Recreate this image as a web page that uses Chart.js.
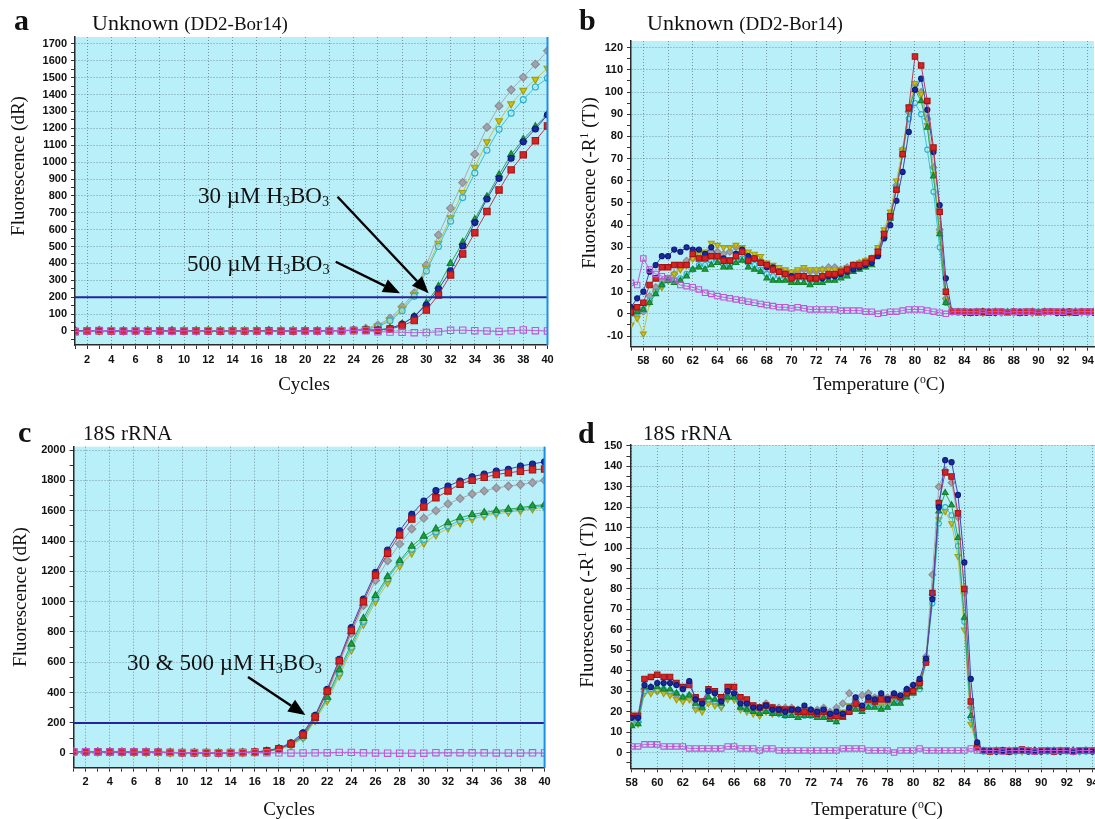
<!DOCTYPE html>
<html>
<head>
<meta charset="utf-8">
<title>Amplification and melt curves</title>
<script src="https://cdn.jsdelivr.net/npm/chart.js@4.4.1/dist/chart.umd.min.js"></script>
<style>
  html, body { margin: 0; padding: 0; background: #fff; }
  body { position: relative; width: 1095px; height: 819px; overflow: hidden; }
  canvas { position: absolute; }
  .tx { position: absolute; font-family: "Liberation Serif", "Times New Roman", serif; color: #111; line-height: 1; white-space: nowrap; }
  .letter { font-weight: bold; font-size: 30px; }
  .head { font-size: 22px; }
  .head small { font-size: 19px; }
  .ttl { font-size: 21px; }
  .ax { font-size: 19px; transform: translate(-50%, -50%); }
  .ax.v { transform: translate(-50%, -50%) rotate(-90deg); }
  .note { font-size: 23px; }
  sub { font-size: 0.62em; vertical-align: -0.2em; line-height: 0; }
  sup { font-size: 0.62em; vertical-align: 0.55em; line-height: 0; }
</style>
</head>
<body>
<canvas id="chartA" width="560" height="400" style="left:0;top:0"></canvas>
<canvas id="chartB" width="540" height="400" style="left:560px;top:0"></canvas>
<canvas id="chartC" width="560" height="419" style="left:0;top:400px"></canvas>
<canvas id="chartD" width="540" height="419" style="left:560px;top:400px"></canvas>

<div class="tx letter" style="left:14px;top:5px">a</div>
<div class="tx letter" style="left:579px;top:5px">b</div>
<div class="tx letter" style="left:18px;top:417px">c</div>
<div class="tx letter" style="left:578px;top:418px">d</div>

<div class="tx head" style="left:92px;top:11.6px">Unknown <small>(DD2-Bor14)</small></div>
<div class="tx head" style="left:647px;top:11.6px">Unknown <small>(DD2-Bor14)</small></div>
<div class="tx ttl" style="left:83px;top:423.4px">18S rRNA</div>
<div class="tx ttl" style="left:643px;top:423.4px">18S rRNA</div>

<div class="tx ax v" style="left:17px;top:166px">Fluorescence (dR)</div>
<div class="tx ax" style="left:304px;top:383px">Cycles</div>
<div class="tx ax v" style="left:588px;top:183px">Fluorescence (-R<sup>1</sup> (T))</div>
<div class="tx ax" style="left:879px;top:383px">Temperature (<sup>o</sup>C)</div>
<div class="tx ax v" style="left:19px;top:597px">Fluorescence (dR)</div>
<div class="tx ax" style="left:289px;top:808px">Cycles</div>
<div class="tx ax v" style="left:586px;top:602px">Fluorescence (-R<sup>1</sup> (T))</div>
<div class="tx ax" style="left:877px;top:808px">Temperature (<sup>o</sup>C)</div>

<div class="tx note" style="left:198px;top:183.7px">30 µM H<sub>3</sub>BO<sub>3</sub></div>
<div class="tx note" style="left:187px;top:252.4px">500 µM H<sub>3</sub>BO<sub>3</sub></div>
<div class="tx note" style="left:127px;top:650.7px">30 &amp; 500 µM H<sub>3</sub>BO<sub>3</sub></div>

<script>
// ---------- amplification plots (a: unknown, c: 18S) ----------
const cycles = [1,2,3,4,5,6,7,8,9,10,11,12,13,14,15,16,17,18,19,20,21,22,23,24,25,26,27,28,29,30,31,32,33,34,35,36,37,38,39,40];
const cycleLabels = [2,4,6,8,10,12,14,16,18,20,22,24,26,28,30,32,34,36,38,40];
const yLabelsA = [0,100,200,300,400,500,600,700,800,900,1000,1100,1200,1300,1400,1500,1600,1700];
const yLabelsC = [0,200,400,600,800,1000,1200,1400,1600,1800,2000];
const thresholdA = 200;
const thresholdC = 200;

// 30 uM boric acid: gray, yellow, cyan; 500 uM: green, blue, red; no-template: magenta
const grayA    = [0,2,3,1,0,2,1,0,1,2,0,1,2,1,0,1,2,0,1,2,1,3,2,5,16,36,75,144,225,391,569,727,879,1047,1207,1333,1428,1503,1580,1659];
const yellowA  = [1,0,2,1,0,1,2,1,0,1,1,2,0,1,2,1,0,1,1,2,1,2,3,4,12,30,65,130,215,370,520,670,820,970,1120,1245,1345,1425,1490,1556];
const cyanA    = [0,1,1,2,0,1,1,0,2,1,0,1,1,0,2,1,1,0,1,1,2,1,2,4,10,25,60,120,205,355,500,650,790,935,1070,1195,1290,1370,1445,1497];
const greenA   = [2,1,3,2,1,2,3,1,2,1,2,3,1,2,1,2,3,1,2,2,1,2,3,4,5,7,15,40,85,165,265,400,525,660,795,925,1045,1135,1210,1285];
const blueA    = [0,1,2,1,0,1,2,1,0,1,2,1,0,1,1,2,1,0,1,2,1,2,2,3,4,6,14,41,85,154,248,357,503,642,782,904,1023,1121,1196,1280];
const redA     = [-3,0,1,0,-1,1,0,1,-1,0,1,0,-1,1,0,0,1,-1,0,1,0,1,2,3,4,5,12,30,62,124,213,332,456,582,707,835,954,1043,1127,1214];
const magentaA = [-4,0,3,2,0,1,2,0,-1,1,0,2,1,0,1,0,-1,0,1,0,0,1,2,3,2,-4,-6,-8,-10,-9,-5,4,5,2,0,-3,1,6,2,0];

const grayC    = [12,12,10,10,9,8,9,8,6,5,5,5,4,5,6,8,14,32,62,130,245,395,590,790,975,1140,1270,1380,1480,1550,1600,1645,1680,1710,1730,1750,1762,1772,1785,1800];
const yellowC  = [8,8,8,7,7,6,6,6,5,4,4,4,3,4,5,6,12,25,50,100,215,345,510,680,850,1000,1125,1235,1320,1385,1440,1485,1520,1545,1565,1578,1590,1600,1612,1620];
const cyanC    = [9,9,8,8,7,7,7,6,5,4,4,4,3,4,5,7,13,28,55,105,225,360,530,700,870,1020,1150,1260,1345,1410,1460,1500,1535,1560,1575,1590,1600,1612,1625,1630];
const greenC   = [10,10,9,9,8,7,8,7,5,5,4,4,3,4,5,7,14,30,60,112,230,370,550,720,890,1040,1165,1270,1365,1432,1480,1520,1553,1575,1588,1600,1610,1620,1632,1640];
const blueC    = [12,11,10,9,8,8,7,7,5,3,3,3,2,4,5,8,18,33,70,135,250,422,620,829,1018,1193,1341,1468,1576,1664,1732,1763,1796,1824,1842,1862,1873,1895,1908,1923];
const redC     = [11,10,10,9,8,8,8,7,5,4,3,3,2,3,5,8,15,30,62,122,240,410,610,810,1000,1175,1320,1440,1545,1625,1685,1730,1775,1800,1820,1838,1850,1860,1870,1875];
const magentaC = [10,10,9,9,8,8,8,7,6,5,5,5,4,5,5,5,4,3,2,2,3,4,6,6,3,2,1,1,1,1,4,4,4,3,3,2,2,2,3,2];

// ---------- melt curves (b: unknown, d: 18S) ----------
const tempsB = [57,57.5,58,58.5,59,59.5,60,60.5,61,61.5,62,62.5,63,63.5,64,64.5,65,65.5,66,66.5,67,67.5,68,68.5,69,69.5,70,70.5,71,71.5,72,72.5,73,73.5,74,74.5,75,75.5,76,76.5,77,77.5,78,78.5,79,79.5,80,80.5,81,81.5,82,82.5,83,83.5,84,84.5,85,85.5,86,86.5,87,87.5,88,88.5,89,89.5,90,90.5,91,91.5,92,92.5,93,93.5,94,94.5];
const tempsD = [58,58.5,59,59.5,60,60.5,61,61.5,62,62.5,63,63.5,64,64.5,65,65.5,66,66.5,67,67.5,68,68.5,69,69.5,70,70.5,71,71.5,72,72.5,73,73.5,74,74.5,75,75.5,76,76.5,77,77.5,78,78.5,79,79.5,80,80.5,81,81.5,82,82.5,83,83.5,84,84.5,85,85.5,86,86.5,87,87.5,88,88.5,89,89.5,90,90.5,91,91.5,92,92.5,93,93.5,94];
const tempLabels = [58,60,62,64,66,68,70,72,74,76,78,80,82,84,86,88,90,92,94];
const yLabelsB = [-10,0,10,20,30,40,50,60,70,80,90,100,110,120];
const yLabelsD = [0,10,20,30,40,50,60,70,80,90,100,110,120,130,140,150];

const grayB    = [0,0,1,8,12,15,16,18,21,24,25,26,26,28,28,27,28,30,28,26,25,24,22,20,19,19,18,19,20,19,19,20,21,21,20,21,22,23,24,25,29,37,45,58,74,91,103,100,88,66,38,7,1,
                  1,1,0.5,1,0.5,1,1,0.5,1,1,0.5,1,0.5,1,1,1,0.5,1,0.5,1,1,0.5,1];
const yellowB  = [-5,-2,-9,5,10,12,15,18,20,22,25,27,28,32,31,30,30,31,30,28,27,26,23,22,21,20,19,20,21,20,20,20,20,20,20,21,22,23,24,25,30,38,46,60,74,93,104,99,85,63,36,6,1,
                  1,0.5,1,1,0.5,1,0.5,1,1,0.5,1,1,0.5,1,0.5,1,1,0.5,1,1,0.5,1,1];
const cyanB    = [0,1,2,6,10,13,15,15,16,18,20,22,22,24,24,22,22,24,25,23,22,20,18,17,17,16,16,16,16,15,15,16,16,17,17,18,20,21,22,23,28,36,44,57,72,88,95,90,74,55,30,5,1,
                  0.5,1,0.5,1,0.5,0.5,1,0.5,1,0.5,0.5,1,0.5,1,0.5,1,0.5,0.5,1,0.5,1,0.5,0.5];
const greenB   = [0,1,2,5,9,13,15,14,15,17,20,21,20,22,23,21,21,23,24,21,20,19,16,15,15,15,14,14,14,13,14,14,15,15,16,17,19,20,21,22,27,35,43,56,72,92,101,96,84,62,36,5,1,
                  0.5,1,0.5,0.5,1,0.5,1,0.5,0.5,1,0.5,0.5,1,0.5,1,0.5,0.5,1,0.5,1,0.5,0.5,1];
const blueB    = [3,7,10,19,22,26,26,29,28,30,29,29,27,30,26,25,24,27,29,26,25,23,21,21,19,18,17,17,17,16,16,16,17,17,18,19,20,21,22,23,26,34,40,51,64,82,101,106,92,73,49,16,1,
                  1,0.5,1,0.5,1,1,0.5,1,0.5,1,1,0.5,1,0.5,1,1,0.5,1,1,0.5,1,1,0.5];
const redB     = [1,3,5,13,16,21,21,22,22,22,27,25,25,26,26,24,24,26,28,24,25,23,22,20,19,18,16,17,17,16,16,17,18,18,19,20,22,22,23,25,28,36,44,56,72,93,116,112,96,75,46,10,1,
                  1,1,0.5,1,1,0.5,1,1,0.5,1,0.5,1,1,0.5,1,1,1,0.5,1,0.5,1,1,1];
const magentaB = [14,13,25,20,18,17,16,15,13,12.5,12,11,9.5,9,8,7.5,7,6.5,6,5.5,5,4.5,4,3.5,3,3,2.5,3,2.5,2,2,2,2,2,1.5,1.5,1.5,1.5,1,1,0,0.5,1,1,1.5,2,2,2,1.5,1,0.5,0,1,
                  1,1,1,1,0.5,1,1,1,0.5,1,1,1,1,0.5,1,1,1,1,0.5,1,1,1,1];

const grayD    = [16,15,31,30,30,30,29,28,26,27,22,21,26,25,23,28,28,25,23,22,22,24,22,22,22,22,21,21,21,21,22,20,22,24,29,26,28,29,27,28,27,28,27,31,33,35,47,87,130,138,132,115,78,22,3,
                  1,1,0.5,1,1,0.5,1,1,1,0.5,1,0.5,1,1,1,0.5,1,1];
const yellowD  = [14,14,29,29,30,29,28,26,25,26,21,20,24,23,22,26,26,21,20,19,18,20,19,19,19,19,18,19,19,18,19,18,19,20,23,22,23,24,24,23,24,26,26,29,30,33,45,75,114,118,112,96,60,14,2,
                  1,0.5,1,1,0.5,1,0.5,1,1,0.5,1,1,0.5,1,0.5,1,1,0.5];
const cyanD    = [15,15,30,31,31,31,30,29,27,28,23,22,26,25,23,27,27,22,21,21,20,21,20,19,18,19,18,18,18,18,18,17,16,18,21,22,21,23,23,22,23,25,25,28,29,31,44,73,112,120,116,101,64,17,2,
                  0.5,1,0.5,0.5,1,0.5,1,0.5,0.5,1,0.5,0.5,1,0.5,1,0.5,0.5,1];
const greenD   = [13,14,32,32,32,31,31,29,27,28,24,22,27,26,24,27,27,22,21,20,19,20,19,19,18,18,17,18,18,17,17,16,15,17,20,21,20,22,22,21,22,24,24,27,29,32,45,78,118,127,121,105,66,18,2,
                  0.5,0.5,1,0.5,0.5,1,0.5,0.5,1,0.5,0.5,1,0.5,0.5,1,0.5,1,0.5];
const blueD    = [17,17,33,32,34,34,34,33,31,35,26,24,30,29,25,30,29,24,24,22,22,23,21,21,20,21,21,23,21,20,21,19,20,19,22,27,23,27,26,29,26,29,28,31,33,36,46,75,120,143,142,126,93,36,5,
                  1,1,0.5,1,0.5,1,1,0.5,1,0.5,1,1,0.5,1,0.5,1,1,0.5];
const redD     = [18,18,36,37,38,37,37,34,32,33,27,25,31,30,27,32,32,27,26,23,22,23,22,21,21,21,20,20,20,19,20,18,18,18,20,24,22,26,25,26,26,28,27,29,30,34,44,78,122,137,135,117,80,25,3,
                  1,0.5,1,1,0.5,1,1.5,1,0.5,1,1,0.5,1,1,0.5,1,1,1];
const magentaD = [3,3,4,4,4,3,3,3,3,2,2,2,2,2,2,3,3,2,2,2,1,2,2,1,1,1,1,1,1,1,1,1,1,2,2,2,2,1,1,1,1,0,1,1,1,2,1,1,1,1,1,1,1,2,1,
                  1,1,1,0.5,1,1,1,1,0.5,1,1,1,1,1,0.5,1,1,1];

// annotation arrows, in data units of each panel
const arrowsA = [
  { from: [22.67, 795], to: [30.19, 223] },
  { from: [22.52, 410], to: [27.83, 223] }
];
const arrowsC = [
  { from: [15.44, 503], to: [20.19, 252] }
];

// ---------- styling ----------
const PLOT_BG = '#b9eff8';
const GRID = 'rgba(70,92,104,0.6)';
const TICK_FONT = { family: '"Liberation Sans", Arial, sans-serif', size: 11, weight: 'bold' };
Chart.defaults.font.family = '"Liberation Sans", Arial, sans-serif';

const looks = {
  gray:    { line: '#a9a9b0', fill: '#a2a2aa', edge: '#8b8b94', shape: 'rectRot', rot: 0 },
  yellow:  { line: '#c6c040', fill: '#c8c018', edge: '#a49c10', shape: 'triangle', rot: 180 },
  cyan:    { line: '#3cc0d8', fill: 'rgba(200,244,250,0.5)', edge: '#2aaed0', shape: 'circle', rot: 0 },
  green:   { line: '#2ea850', fill: '#1e9e3e', edge: '#12802c', shape: 'triangle', rot: 0 },
  blue:    { line: '#3a48b8', fill: '#1a2a9a', edge: '#0e1a7c', shape: 'circle', rot: 0 },
  red:     { line: '#b43a5a', fill: '#d62424', edge: '#a41414', shape: 'rect', rot: 0 },
  magenta: { line: '#b860d4', fill: 'rgba(0,0,0,0)', edge: '#c056d2', shape: 'rect', rot: 0 }
};
const markerSize = { rectRot: 4, triangle: 4, circle: 3, rect: 4.5 };

function series(key, xs, ys, k) {
  const s = looks[key];
  return {
    data: xs.map((x, i) => ({ x, y: ys[i] })),
    borderColor: s.line,
    borderWidth: 1,
    tension: 0,
    pointStyle: s.shape,
    rotation: s.rot,
    pointRadius: markerSize[s.shape] * k,
    pointBackgroundColor: s.fill,
    pointBorderColor: s.edge,
    pointBorderWidth: 1.1
  };
}

function threshold(value, x0, x1) {
  return {
    data: [{ x: x0, y: value }, { x: x1, y: value }],
    borderColor: '#2424a0',
    borderWidth: 2,
    pointRadius: 0
  };
}

// every labelled tick plus the half-step tick marks between them
function allTicks(labels, min, max) {
  const h = (labels[1] - labels[0]) / 2;
  const out = [];
  let v = labels[0];
  while (v - h >= min - 1e-9) v -= h;
  for (; v <= max + 1e-9; v += h) out.push(Math.round(v * 1000) / 1000);
  return out;
}

// cyan plot area, blue right edge and the black arrows
function frame(extra) {
  return {
    id: 'frame',
    beforeDraw(chart) {
      const { ctx, chartArea: a } = chart;
      ctx.save();
      ctx.fillStyle = PLOT_BG;
      ctx.fillRect(a.left, a.top, a.right - a.left, a.bottom - a.top);
      ctx.restore();
    },
    afterDraw(chart) {
      const { ctx, chartArea: a, scales } = chart;
      ctx.save();
      if (extra.rightEdge) {
        ctx.strokeStyle = '#1c8fe6';
        ctx.lineWidth = 2;
        ctx.beginPath();
        ctx.moveTo(a.right, a.top);
        ctx.lineTo(a.right, a.bottom);
        ctx.stroke();
      }
      (extra.arrows || []).forEach(ar => {
        const x0 = scales.x.getPixelForValue(ar.from[0]);
        const y0 = scales.y.getPixelForValue(ar.from[1]);
        const x1 = scales.x.getPixelForValue(ar.to[0]);
        const y1 = scales.y.getPixelForValue(ar.to[1]);
        const ang = Math.atan2(y1 - y0, x1 - x0);
        const L = 17, W = 7;
        const bx = x1 - L * Math.cos(ang), by = y1 - L * Math.sin(ang);
        ctx.strokeStyle = '#000';
        ctx.lineWidth = 2.4;
        ctx.beginPath();
        ctx.moveTo(x0, y0);
        ctx.lineTo(bx, by);
        ctx.stroke();
        ctx.fillStyle = '#000';
        ctx.beginPath();
        ctx.moveTo(x1, y1);
        ctx.lineTo(bx + W * Math.sin(ang), by - W * Math.cos(ang));
        ctx.lineTo(bx - W * Math.sin(ang), by + W * Math.cos(ang));
        ctx.closePath();
        ctx.fill();
      });
      ctx.restore();
    }
  };
}

function axis(labels, min, max, size, horizontal) {
  const all = allTicks(labels, min, max);
  const labelled = v => labels.includes(v);
  return {
    type: 'linear',
    min, max,
    afterBuildTicks: s => { s.ticks = all.map(value => ({ value })); },
    afterFit: s => {
      if (horizontal) { s.height = size; s.paddingLeft = 0; s.paddingRight = 0; }
      else { s.width = size; s.paddingTop = 0; s.paddingBottom = 0; }
    },
    ticks: {
      autoSkip: false, maxRotation: 0, minRotation: 0,
      padding: 4,
      color: '#111', font: TICK_FONT,
      callback: v => labelled(v) ? String(v) : ''
    },
    grid: {
      color: c => labelled(c.tick.value) ? GRID : 'rgba(0,0,0,0)',
      lineWidth: 1, tickColor: '#333', tickLength: 4
    },
    border: { color: '#2a2a2a', width: 1.5, dash: [1, 2] }
  };
}

function panel(id, cfg) {
  return new Chart(document.getElementById(id), {
    type: 'line',
    data: { datasets: cfg.datasets },
    options: {
      responsive: false,
      animation: false,
      layout: { padding: { top: cfg.top, right: cfg.right, left: 0, bottom: 0 } },
      plugins: { legend: { display: false }, tooltip: { enabled: false } },
      scales: {
        x: axis(cfg.xLabels, cfg.xMin, cfg.xMax, cfg.xH, true),
        y: axis(cfg.yLabels, cfg.yMin, cfg.yMax, cfg.yW, false)
      }
    },
    plugins: [frame(cfg.extra)]
  });
}

// first dataset is drawn on top
panel('chartA', {
  top: 37, right: 12.5, yW: 75, xH: 55,
  xMin: 1, xMax: 40, yMin: -83, yMax: 1741,
  xLabels: cycleLabels, yLabels: yLabelsA,
  extra: { rightEdge: true, arrows: arrowsA },
  datasets: [
    threshold(thresholdA, 1, 40),
    series('magenta', cycles, magentaA, 1),
    series('red', cycles, redA, 1),
    series('blue', cycles, blueA, 1),
    series('green', cycles, greenA, 1),
    series('cyan', cycles, cyanA, 1),
    series('yellow', cycles, yellowA, 1),
    series('gray', cycles, grayA, 1)
  ]
});

panel('chartB', {
  top: 41, right: 6, yW: 71, xH: 53.3,
  xMin: 57, xMax: 94.5, yMin: -14.8, yMax: 123,
  xLabels: tempLabels, yLabels: yLabelsB,
  extra: {},
  datasets: [
    series('magenta', tempsB, magentaB, 0.85),
    series('red', tempsB, redB, 0.85),
    series('blue', tempsB, blueB, 0.85),
    series('green', tempsB, greenB, 0.85),
    series('cyan', tempsB, cyanB, 0.85),
    series('yellow', tempsB, yellowB, 0.85),
    series('gray', tempsB, grayB, 0.85)
  ]
});

panel('chartC', {
  top: 46.7, right: 15.4, yW: 73.6, xH: 51.3,
  xMin: 1, xMax: 40, yMin: -95, yMax: 2022,
  xLabels: cycleLabels, yLabels: yLabelsC,
  extra: { rightEdge: true, arrows: arrowsC },
  datasets: [
    threshold(thresholdC, 1, 40),
    series('magenta', cycles, magentaC, 1),
    series('red', cycles, redC, 1),
    series('blue', cycles, blueC, 1),
    series('green', cycles, greenC, 1),
    series('cyan', cycles, cyanC, 1),
    series('yellow', cycles, yellowC, 1),
    series('gray', cycles, grayC, 1)
  ]
});

panel('chartD', {
  top: 45, right: 2.4, yW: 70.4, xH: 50.7,
  xMin: 57.9, xMax: 94.2, yMin: -7.7, yMax: 150.4,
  xLabels: tempLabels, yLabels: yLabelsD,
  extra: {},
  datasets: [
    series('magenta', tempsD, magentaD, 0.85),
    series('blue', tempsD, blueD, 0.85),
    series('red', tempsD, redD, 0.85),
    series('green', tempsD, greenD, 0.85),
    series('cyan', tempsD, cyanD, 0.85),
    series('yellow', tempsD, yellowD, 0.85),
    series('gray', tempsD, grayD, 0.85)
  ]
});
</script>
</body>
</html>
